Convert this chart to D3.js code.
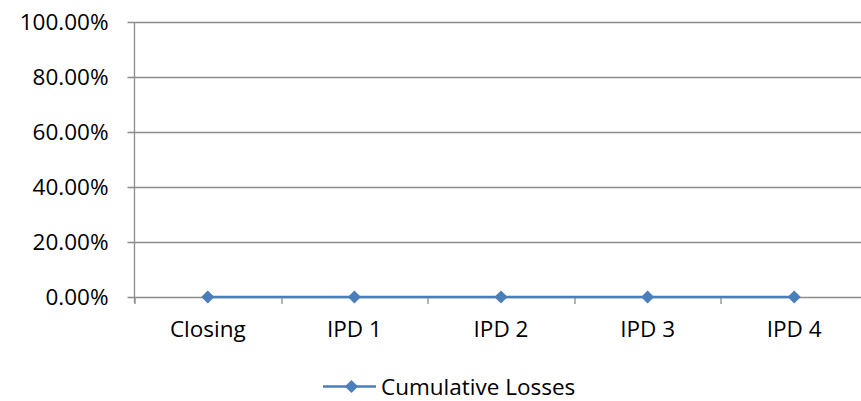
<!DOCTYPE html>
<html>
<head>
<meta charset="utf-8">
<script src="https://cdn.jsdelivr.net/npm/d3@7"></script>
<style>
  body { margin: 0; background: #fff; }
  text { font-family: "Open Sans", sans-serif; fill: #000; }
</style>
</head>
<body>
<div id="plot"></div>
<script>
var categories = ["Closing", "IPD 1", "IPD 2", "IPD 3", "IPD 4"];
var cumulativeLosses = [0, 0, 0, 0, 0];
var yTicks = [0, 0.2, 0.4, 0.6, 0.8, 1.0];
var seriesName = "Cumulative Losses";

var W = 861, H = 401;
var margin = { left: 134.5, top: 22, bottom: 104 };
var plotW = 733; // plot runs past the right edge of the picture
var h = H - margin.top - margin.bottom;

var blue = "#4a7ebb", grey = "#8c8c8c";

var svg = d3.select("#plot").append("svg")
  .attr("width", W)
  .attr("height", H);

var g = svg.append("g")
  .attr("transform", "translate(" + margin.left + "," + margin.top + ")");

var x = d3.scaleBand()
  .domain(categories)
  .range([0, plotW]);

var y = d3.scaleLinear()
  .domain([0, 1])
  .range([h, 0]);

var fmt = d3.format(".2%");

// gridlines + left ticks
g.selectAll(".grid")
  .data(yTicks)
  .enter().append("line")
  .attr("x1", -7)
  .attr("x2", plotW)
  .attr("y1", function(d) { return Math.round(y(d)) + 0.5; })
  .attr("y2", function(d) { return Math.round(y(d)) + 0.5; })
  .attr("stroke", grey)
  .attr("stroke-width", 1.3);

// y labels
g.selectAll(".ylab")
  .data(yTicks)
  .enter().append("text")
  .attr("x", -26)
  .attr("y", function(d) { return y(d); })
  .attr("dy", "0.36em")
  .attr("text-anchor", "end")
  .style("font-size", "22.5px")
  .text(function(d) { return fmt(d); });

// y axis line
g.append("line")
  .attr("x1", 0).attr("x2", 0)
  .attr("y1", y(1)).attr("y2", y(0) + 6)
  .attr("stroke", grey)
  .attr("stroke-width", 1.3);

// category ticks
var bounds = categories.map(function(c) { return x(c); }).concat([plotW]);
g.selectAll(".xtick")
  .data(bounds)
  .enter().append("line")
  .attr("x1", function(d) { return Math.round(d) + 0.5; })
  .attr("x2", function(d) { return Math.round(d) + 0.5; })
  .attr("y1", y(0))
  .attr("y2", y(0) + 7)
  .attr("stroke", grey)
  .attr("stroke-width", 1.3);

// category labels
g.selectAll(".xlab")
  .data(categories)
  .enter().append("text")
  .attr("x", function(d) { return x(d) + x.bandwidth() / 2; })
  .attr("y", y(0) + 40)
  .attr("text-anchor", "middle")
  .style("font-size", "22.5px")
  .text(function(d) { return d; });

// series line
var line = d3.line()
  .x(function(d, i) { return x(categories[i]) + x.bandwidth() / 2; })
  .y(function(d) { return y(d); });

g.append("path")
  .datum(cumulativeLosses)
  .attr("d", line)
  .attr("fill", "none")
  .attr("stroke", blue)
  .attr("stroke-width", 2.5);

var diamond = d3.symbol().type(d3.symbolDiamond2).size(110);

g.selectAll(".pt")
  .data(cumulativeLosses)
  .enter().append("path")
  .attr("d", diamond)
  .attr("transform", function(d, i) {
    return "translate(" + (x(categories[i]) + x.bandwidth() / 2) + "," + y(d) + ")";
  })
  .attr("fill", blue);

// legend
var leg = svg.append("g").attr("transform", "translate(323,386.5)");
leg.append("line")
  .attr("x1", 0).attr("x2", 53)
  .attr("y1", 0).attr("y2", 0)
  .attr("stroke", blue)
  .attr("stroke-width", 2.5);
leg.append("path")
  .attr("d", diamond)
  .attr("transform", "translate(28.5,0)")
  .attr("fill", blue);
leg.append("text")
  .attr("x", 58)
  .attr("y", 0)
  .attr("dy", "0.36em")
  .style("font-size", "22.5px")
  .text(seriesName);
</script>
</body>
</html>
